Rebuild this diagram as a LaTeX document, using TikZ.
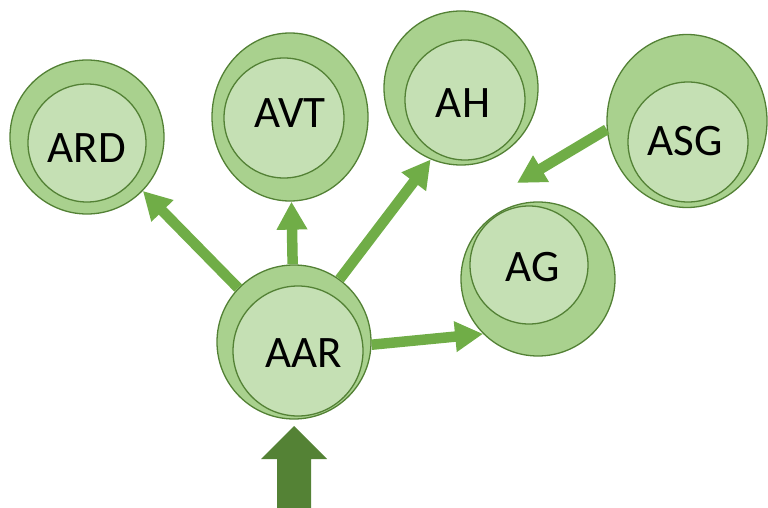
\documentclass[tikz,border=0pt]{standalone}
\usepackage{fontspec}
\setmainfont{Carlito}
\usetikzlibrary{arrows.meta,shapes.geometric}
\definecolor{outerfill}{HTML}{A9D18E}
\definecolor{innerfill}{HTML}{C5E0B4}
\definecolor{ringline}{HTML}{538135}
\definecolor{arrowgreen}{HTML}{70AD47}
\definecolor{bigarrow}{HTML}{548235}
\begin{document}
\begin{tikzpicture}[x=1pt,y=-1pt,
  outer/.style 2 args={ellipse, draw=ringline, line width=1.3pt, fill=outerfill, inner sep=0pt, minimum width=#1, minimum height=#2},
  inner/.style={circle, draw=ringline, line width=1.3pt, fill=innerfill, inner sep=0pt, minimum size=#1},
  lbl/.style={inner sep=0pt, font=\fontsize{45}{50}\selectfont},
  arr/.style={draw=arrowgreen, line width=10.5pt, -{Triangle[length=28pt,width=29pt]}, color=arrowgreen}]
\useasboundingbox (0,0) rectangle (768,508);
% circles
\node[outer={154pt}{154pt}] (ardO) at (87,137) {};
\node[inner=118pt] (ardI) at (87,143) {};
\node[lbl] (ardT) at (87,148) {ARD};
\node[outer={156pt}{168pt}] (avtO) at (290,117) {};
\node[inner=120pt] (avtI) at (284,118) {};
\node[lbl] (avtT) at (290,113) {AVT};
\node[outer={154pt}{154pt}] (ahO) at (461,88) {};
\node[inner=120pt] (ahI) at (465,100) {};
\node[lbl] (ahT) at (463,103) {AH};
\node[outer={160pt}{173pt}] (asgO) at (687,121) {};
\node[inner=120pt] (asgI) at (688,142) {};
\node[lbl] (asgT) at (685,141) {ASG};
\node[outer={154pt}{154pt}] (agO) at (538,279) {};
\node[inner=118pt] (agI) at (529,265) {};
\node[lbl] (agT) at (533,267) {AG};
\node[outer={154pt}{154pt}] (aarO) at (294,342) {};
\node[inner=130pt] (aarI) at (298,351) {};
\node[lbl] (aarT) at (304,353) {AAR};
\coordinate (asgEnd) at (517,183);
% connectors
\draw[arr] (aarO.136) -- (ardO.-44);
\draw[arr] (aarO.91) -- (avtO.-89);
\draw[arr] (aarO.54) -- (ahO.-113);
\draw[arr] (aarO.-2) -- (agO.-135);
\draw[arr] (asgO.186) -- (asgEnd);
% big input arrow
\fill[bigarrow] (277,508) -- (277,459) -- (261,459) -- (294,426) -- (327,459) -- (311,459) -- (311,508) -- cycle;
\end{tikzpicture}
\end{document}
